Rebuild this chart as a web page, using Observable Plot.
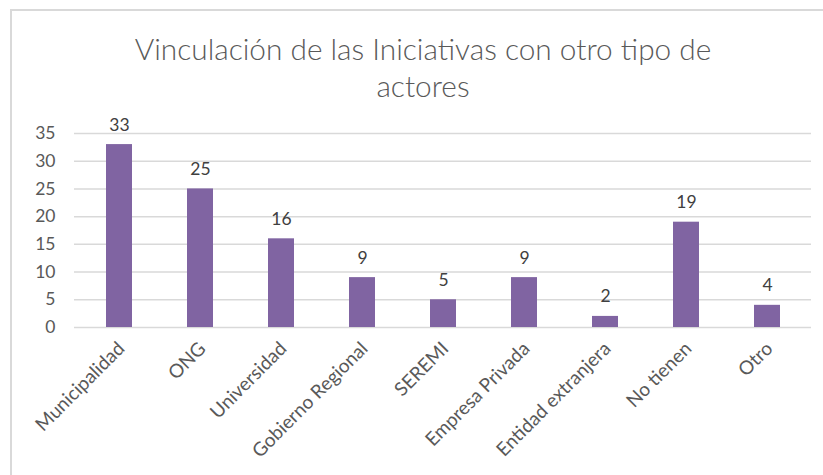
<!DOCTYPE html>
<html>
<head>
<meta charset="utf-8">
<script src="https://cdn.jsdelivr.net/npm/d3@7"></script>
<script src="https://cdn.jsdelivr.net/npm/@observablehq/plot@0.6"></script>
<style>
  html, body { margin: 0; padding: 0; background: #fff; }
  #wrap { position: relative; width: 823px; height: 475px; overflow: hidden; font-family: Lato, "Open Sans", sans-serif; }
  #frame { position: absolute; left: 10px; top: 9px; width: 900px; height: 600px; border-left: 2px solid #d9d9d9; border-top: 2px solid #d9d9d9; }
  #title { position: absolute; left: 0; width: 846px; top: 30px; text-align: center; font-size: 29.8px; font-weight: 300; color: #595959; line-height: 37px; }
  #chart { position: absolute; left: 0; top: 0; }
</style>
</head>
<body>
<div id="wrap">
  <div id="frame"></div>
  <div id="title">Vinculación de las Iniciativas con otro tipo de<br>actores</div>
  <div id="chart"></div>
</div>
<script>
const categories = ["Municipalidad", "ONG", "Universidad", "Gobierno Regional", "SEREMI", "Empresa Privada", "Entidad extranjera", "No tienen", "Otro"];
const values = [33, 25, 16, 9, 5, 9, 2, 19, 4];
const yTicks = [0, 5, 10, 15, 20, 25, 30, 35];

const data = categories.map((c, i) => ({category: c, value: values[i]}));

const plot = Plot.plot({
  width: 823,
  height: 475,
  marginTop: 133,
  marginBottom: 148,
  marginLeft: 74,
  marginRight: 12,
  style: {fontFamily: "Lato, 'Open Sans', sans-serif", background: "transparent", overflow: "visible"},
  x: {domain: categories, paddingInner: 0.68, paddingOuter: 0.34, align: 0.5, axis: null},
  y: {domain: [0, 35], ticks: yTicks, axis: null},
  marks: [
    Plot.ruleY(yTicks, {stroke: "#d9d9d9", strokeWidth: 1.5}),
    Plot.barY(data, {x: "category", y: "value", fill: "#8064A2"}),
    Plot.text(data, {x: "category", y: "value", text: d => String(d.value), dy: -14, lineAnchor: "bottom", fontSize: 17.5, fill: "#404040"}),
    Plot.text(yTicks, {y: d => d, text: d => String(d), frameAnchor: "left", textAnchor: "end", dx: -19, fontSize: 17.5, fill: "#595959"}),
    Plot.text(data, {x: "category", text: "category", frameAnchor: "bottom", rotate: -45, textAnchor: "end", lineAnchor: "middle", dy: 18, dx: 2, fontSize: 19, fill: "#595959"})
  ]
});
document.getElementById("chart").appendChild(plot);
</script>
</body>
</html>
